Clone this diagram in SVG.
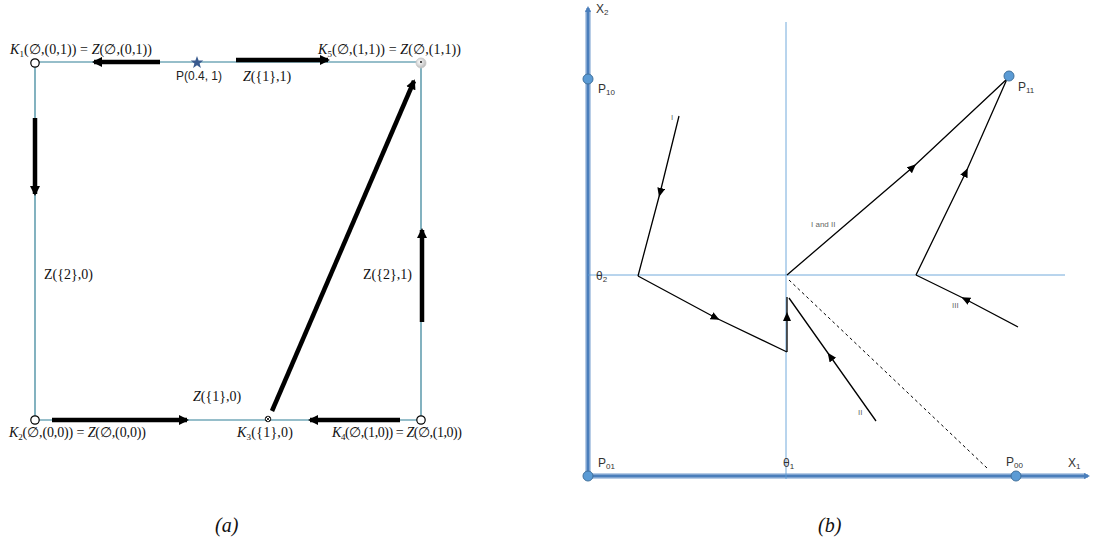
<svg xmlns="http://www.w3.org/2000/svg" width="1097" height="550" viewBox="0 0 1097 550">
<style>
.frame{stroke:#2f7f95;stroke-width:1.2;fill:none}
.thick{stroke:#000;stroke-width:4.5;fill:none;marker-end:url(#bigArr)}
.lbl{font-family:"Liberation Serif",serif;font-size:14px;fill:#111}
.it{font-style:italic}
.sans{font-family:"Liberation Sans",sans-serif;font-size:12px;fill:#222}
.cap{font-family:"Liberation Serif",serif;font-size:20px;font-style:italic;fill:#111}
.axisHalo{stroke:#b8cde6;stroke-width:6;fill:none}
.axis{stroke:#4a7ebb;stroke-width:3;fill:none}
.thin{stroke:#5b9bd5;stroke-width:1;fill:none;opacity:0.85}
.bl{stroke:#000;stroke-width:1.3;fill:none;marker-mid:url(#smArr)}
.pt{fill:#5b9bd5;stroke:#41719c;stroke-width:1}
.bsans{font-family:"Liberation Sans",sans-serif;font-size:12px;fill:#333}
.tiny{font-family:"Liberation Sans",sans-serif;font-size:8px;fill:#666}
.open{fill:#fff;stroke:#000;stroke-width:1.2}
</style>
<defs>
<marker id="bigArr" markerUnits="userSpaceOnUse" markerWidth="14" markerHeight="12" refX="8" refY="6" orient="auto">
<path d="M0,1 L10,6 L0,11 z" fill="#000"/>
</marker>
<marker id="smArr" markerUnits="userSpaceOnUse" markerWidth="12" markerHeight="10" refX="5" refY="4" orient="auto">
<path d="M0,0 L9,4 L0,8 z" fill="#000"/>
</marker>
<marker id="axArr" markerUnits="userSpaceOnUse" markerWidth="8" markerHeight="8" refX="4" refY="4" orient="auto">
<path d="M0,1 L6,4 L0,7 z" fill="#4a7ebb"/>
</marker>
<radialGradient id="k5g" cx="0.4" cy="0.4" r="0.7">
<stop offset="0" stop-color="#ffffff"/>
<stop offset="1" stop-color="#b0b0b0"/>
</radialGradient>
</defs>

<!-- Panel (a) -->
<g id="frame-a">
<line class="frame" x1="35" y1="62" x2="421" y2="62"/>
<line class="frame" x1="35" y1="62" x2="35" y2="420"/>
<line class="frame" x1="35" y1="420" x2="421" y2="420"/>
<line class="frame" x1="421" y1="62" x2="421" y2="420"/>
</g>
<g id="connectors-a">
<line class="thick" x1="160" y1="62" x2="94" y2="62"/>
<line class="thick" x1="236" y1="60" x2="328" y2="60"/>
<line class="thick" x1="35" y1="118" x2="35" y2="194"/>
<line class="thick" x1="422" y1="322" x2="422" y2="230"/>
<line class="thick" x1="52" y1="420" x2="187" y2="420"/>
<line class="thick" x1="400" y1="420" x2="310" y2="420"/>
<line class="thick" x1="272" y1="411" x2="414" y2="81"/>
</g>
<g id="K1"><circle class="open" cx="35" cy="63" r="4.2"/>
<text class="lbl" x="10" y="54" textLength="142"><tspan class="it">K</tspan><tspan font-size="9" dy="3">1</tspan><tspan dy="-3">(∅,(0,1)) = </tspan><tspan class="it">Z</tspan>(∅,(0,1))</text></g>
<g id="P"><polygon points="197,56 198.6,60.5 203.3,60.6 199.6,63.5 200.9,68 197,65.3 193.1,68 194.4,63.5 190.7,60.6 195.4,60.5" fill="#3a5b8f"/>
<text class="sans" x="176" y="80">P(0.4, 1)</text></g>
<g id="Z11"><text class="lbl" x="243" y="81"><tspan class="it">Z</tspan>({1},1)</text></g>
<g id="K5"><circle cx="421" cy="63" r="5" fill="url(#k5g)" stroke="#c8c8c8" stroke-width="0.8"/><circle cx="421" cy="62" r="1.1" fill="#222"/>
<text class="lbl" x="318" y="54" textLength="143"><tspan class="it">K</tspan><tspan font-size="9" dy="3">5</tspan><tspan dy="-3">(∅,(1,1)) = </tspan><tspan class="it">Z</tspan>(∅,(1,1))</text></g>
<g id="Z20"><text class="lbl" x="44" y="279">Z({2},0)</text></g>
<g id="Z21"><text class="lbl" x="363" y="279">Z({2},1)</text></g>
<g id="Z10"><text class="lbl" x="193" y="401"><tspan class="it">Z</tspan>({1},0)</text></g>
<g id="K2"><circle class="open" cx="35" cy="420" r="4.2"/>
<text class="lbl" x="9" y="437" textLength="137"><tspan class="it">K</tspan><tspan font-size="9" dy="3">2</tspan><tspan dy="-3">(∅,(0,0)) = </tspan><tspan class="it">Z</tspan>(∅,(0,0))</text></g>
<g id="K3"><circle cx="268" cy="419" r="2.8" fill="#fff" stroke="#000" stroke-width="0.9"/>
<path d="M266,417 L270,421 M270,417 L266,421" stroke="#000" stroke-width="0.8"/>
<text class="lbl" x="237" y="437" textLength="56"><tspan class="it">K</tspan><tspan font-size="9" dy="3">3</tspan><tspan dy="-3">({1},0)</tspan></text></g>
<g id="K4"><circle class="open" cx="421" cy="420" r="4.2"/>
<text class="lbl" x="332" y="437" textLength="130"><tspan class="it">K</tspan><tspan font-size="9" dy="3">4</tspan><tspan dy="-3">(∅,(1,0)) = </tspan><tspan class="it">Z</tspan>(∅,(1,0))</text></g>
<text class="cap" x="215" y="532">(a)</text>

<!-- Panel (b) -->
<g id="axes-b">
<line class="axisHalo" x1="588" y1="477" x2="588" y2="10"/>
<line class="axisHalo" x1="588" y1="476" x2="1086" y2="476"/>
<line class="axis" x1="588" y1="477" x2="588" y2="8" marker-end="url(#axArr)"/>
<line class="axis" x1="588" y1="476" x2="1088" y2="476" marker-end="url(#axArr)"/>
<line class="thin" x1="786" y1="22" x2="786" y2="479"/>
<line class="thin" x1="588" y1="275" x2="1065" y2="275"/>
</g>
<g id="connectors-b">
<path class="bl" d="M679,116 L660,193 L638,276"/>
<path class="bl" d="M638,276 L716,318 L787,352"/>
<path class="bl" d="M787,352 L787,316 L787,297"/>
<path class="bl" d="M876,421 L830,356 L789,298"/>
<path class="bl" d="M787,275 L913,167 L1007,79"/>
<path class="bl" d="M916,275 L966,172 L1007,79"/>
<path class="bl" d="M1018,327 L965,299 L916,275"/>
<line x1="789" y1="280" x2="987" y2="468" stroke="#000" stroke-width="1" stroke-dasharray="3,3"/>
</g>
<g id="X2"><text class="bsans" x="596" y="13">X<tspan font-size="8" dy="2">2</tspan></text></g>
<g id="P10"><circle class="pt" cx="588" cy="79" r="5"/><text class="bsans" x="598" y="93">P<tspan font-size="8" dy="2">10</tspan></text></g>
<g id="P11"><circle class="pt" cx="1009" cy="76" r="5"/><text class="bsans" x="1018" y="91">P<tspan font-size="8" dy="2">11</tspan></text></g>
<g id="theta2"><text class="bsans" x="596" y="280">θ<tspan font-size="8" dy="2">2</tspan></text></g>
<g id="P01"><circle class="pt" cx="588" cy="476" r="5"/><text class="bsans" x="598" y="467">P<tspan font-size="8" dy="2">01</tspan></text></g>
<g id="theta1"><text class="bsans" x="783" y="467">θ<tspan font-size="8" dy="2">1</tspan></text></g>
<g id="P00"><circle class="pt" cx="1016" cy="476" r="5"/><text class="bsans" x="1006" y="466">P<tspan font-size="8" dy="2">00</tspan></text></g>
<g id="X1"><text class="bsans" x="1068" y="467">X<tspan font-size="8" dy="2">1</tspan></text></g>
<g id="lab-I"><text class="tiny" x="671" y="120">I</text></g>
<g id="lab-I-II"><text class="tiny" x="811" y="227">I and II</text></g>
<g id="lab-II"><text class="tiny" x="858" y="415">II</text></g>
<g id="lab-III"><text class="tiny" x="952" y="308">III</text></g>
<text class="cap" x="818" y="532">(b)</text>
</svg>
